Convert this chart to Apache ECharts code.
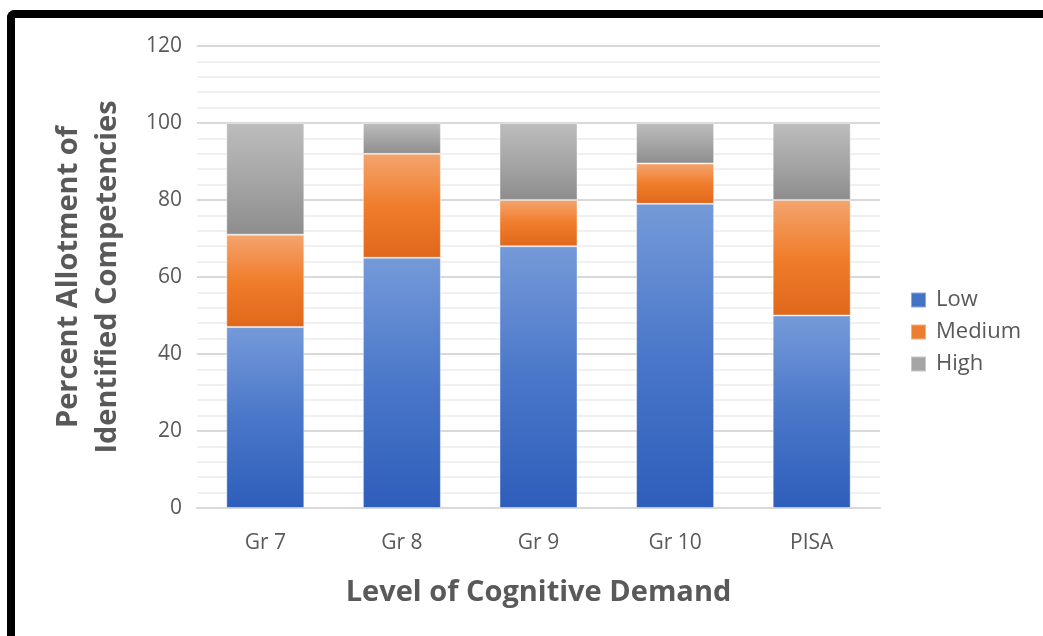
<!DOCTYPE html>
<html>
<head>
<meta charset="utf-8">
<script src="https://cdn.jsdelivr.net/npm/echarts@6/dist/echarts.min.js"></script>
<style>
	html,body{margin:0;padding:0;background:#fff;}
	#chart-area{position:absolute;left:0;top:0;width:1043px;height:636px;}
	#frame{position:absolute;left:7px;top:10px;right:-20px;bottom:-20px;border-top:8px solid #000;border-left:8px solid #000;border-top-left-radius:8px;pointer-events:none;}
</style>
</head>
<body>
<div id="chart-area"></div>
<div id="frame"></div>
<script>
	var categories=['Gr 7','Gr 8','Gr 9','Gr 10','PISA'];
	var lowData=[47,65,68,79,50];
	var mediumData=[24,27,12,10.5,30];
	var highData=[29,8,20,10.5,20];

	//竖向渐变
	function grad(top,mid,bottom){
		return new echarts.graphic.LinearGradient(0,0,0,1,[
			{offset:0,color:top},
			{offset:0.5,color:mid},
			{offset:1,color:bottom}
		]);
	}
	var lowColor=grad('#759ad9','#4a77c9','#2e5ebb');
	var mediumColor=grad('#f4a46f','#f07d2b','#e0671a');
	var highColor=grad('#bdbdbd','#a6a6a6','#8d8d8d');

	var textColor='#595959';
	var fontName='"Open Sans", "Noto Sans", sans-serif';

	var myChart=echarts.init(document.getElementById('chart-area'));
	var option={
		animation:false,
		textStyle:{fontFamily:fontName},
		grid:{left:197,right:163,top:46,bottom:128},
		legend:{
			orient:'vertical',
			left:910,
			top:289,
			padding:0,
			icon:'rect',
			itemWidth:15,
			itemHeight:15,
			itemGap:10,
			textStyle:{fontSize:22,color:textColor,fontFamily:fontName,padding:[0,0,0,5]},
			data:[
				{name:'Low',itemStyle:{color:'#4472c4'}},
				{name:'Medium',itemStyle:{color:'#ed7d31'}},
				{name:'High',itemStyle:{color:'#a5a5a5'}}
			]
		},
		xAxis:{
			type:'category',
			data:categories,
			name:'Level of Cognitive Demand',
			nameLocation:'middle',
			nameGap:70,
			nameTextStyle:{fontSize:29,fontWeight:'bold',color:textColor,fontFamily:fontName},
			axisLine:{lineStyle:{color:'#d9d9d9',width:2}},
			axisTick:{show:false},
			axisLabel:{fontSize:21,color:textColor,margin:25}
		},
		yAxis:{
			type:'value',
			min:0,
			max:120,
			interval:20,
			name:'Percent Allotment of\nIdentified Competencies',
			nameLocation:'middle',
			nameGap:70,
			nameRotate:90,
			nameTextStyle:{fontSize:29,fontWeight:'bold',color:textColor,fontFamily:fontName,lineHeight:39},
			axisLine:{show:false},
			axisTick:{show:false},
			axisLabel:{fontSize:21,color:textColor,margin:15},
			splitLine:{lineStyle:{color:'#d9d9d9',width:2}},
			minorTick:{show:false,splitNumber:5},
			minorSplitLine:{show:true,lineStyle:{color:'#f0f0f0',width:2}}
		},
		series:[
			{name:'Low',type:'bar',stack:'all',data:lowData,barWidth:78,itemStyle:{color:lowColor,borderColor:'rgba(255,255,255,0.4)',borderWidth:1}},
			{name:'Medium',type:'bar',stack:'all',data:mediumData,barWidth:78,itemStyle:{color:mediumColor,borderColor:'rgba(255,255,255,0.4)',borderWidth:1}},
			{name:'High',type:'bar',stack:'all',data:highData,barWidth:78,itemStyle:{color:highColor,borderColor:'rgba(255,255,255,0.4)',borderWidth:1}}
		]
	};
	myChart.setOption(option);
</script>
</body>
</html>
